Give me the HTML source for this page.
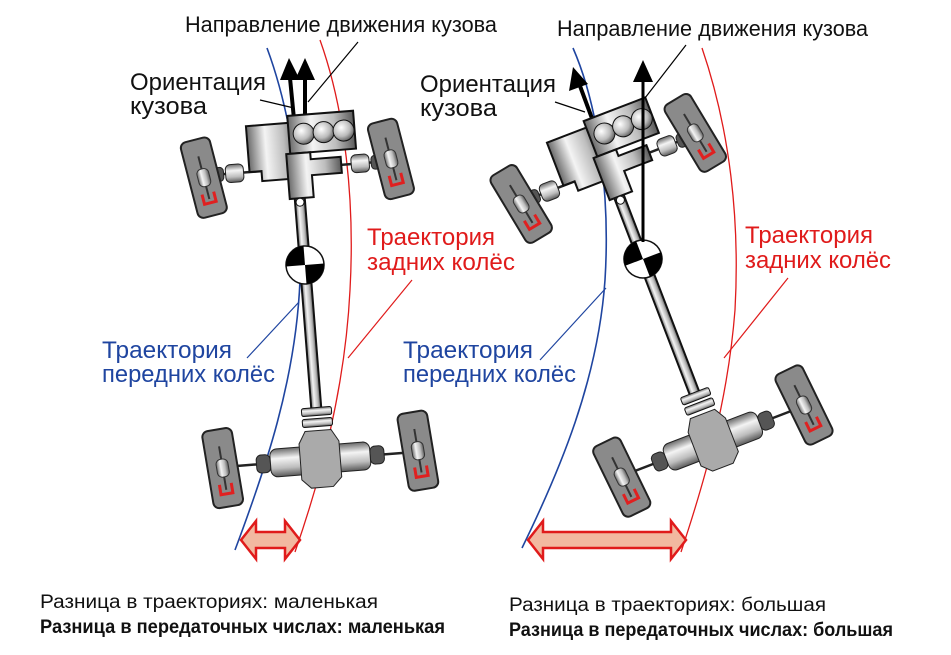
<!DOCTYPE html>
<html><head><meta charset="utf-8">
<style>
html,body{margin:0;padding:0;background:#fff;}
svg{display:block;}
text{font-family:"Liberation Sans",sans-serif;}
</style></head>
<body>
<svg width="951" height="655" viewBox="0 0 951 655" xmlns="http://www.w3.org/2000/svg">
<defs>
<linearGradient id="gh" x1="0" y1="0" x2="1" y2="0">
<stop offset="0" stop-color="#6a6a6a"/><stop offset="0.35" stop-color="#f4f4f4"/><stop offset="0.7" stop-color="#bdbdbd"/><stop offset="1" stop-color="#5a5a5a"/>
</linearGradient>
<linearGradient id="gv" x1="0" y1="0" x2="0" y2="1">
<stop offset="0" stop-color="#6a6a6a"/><stop offset="0.35" stop-color="#f4f4f4"/><stop offset="0.7" stop-color="#bdbdbd"/><stop offset="1" stop-color="#5a5a5a"/>
</linearGradient>
<radialGradient id="gc" cx="0.4" cy="0.35" r="0.7">
<stop offset="0" stop-color="#fff"/><stop offset="0.6" stop-color="#bbb"/><stop offset="1" stop-color="#555"/>
</radialGradient>
<g id="wheel">
<rect x="-15" y="-39" width="30" height="78" rx="6" fill="#8a8a8a" stroke="#222" stroke-width="2"/>
<line x1="0" y1="-22" x2="0" y2="22" stroke="#333" stroke-width="2"/>
<path d="M-6 16 v10 h12 v-10" fill="none" stroke="#e02020" stroke-width="3"/>
<rect x="-6" y="-9" width="12" height="18" rx="5" fill="url(#gh)" stroke="#333" stroke-width="1"/>
</g>
<g id="car">
<rect x="-5" y="-90" width="10" height="240" fill="url(#gh)" stroke="#111" stroke-width="2"/>
<line x1="-92" y1="-97" x2="92" y2="-97" stroke="#222" stroke-width="2.5"/>
<rect x="-72" y="-106" width="18" height="18" rx="5" fill="url(#gv)" stroke="#222"/>
<rect x="54" y="-106" width="18" height="18" rx="5" fill="url(#gv)" stroke="#222"/>
<rect x="-84" y="-104" width="10" height="14" rx="4" fill="#555" stroke="#222"/>
<rect x="74" y="-104" width="10" height="14" rx="4" fill="#555" stroke="#222"/>
<use href="#wheel" transform="translate(-94,-95) rotate(-10)"/>
<use href="#wheel" transform="translate(94,-99) rotate(-10)"/>
<path d="M-48 -143 h52 v56 h-40 v-10 h-12 z" fill="url(#gh)" stroke="#111" stroke-width="2"/>
<rect x="-6" y="-150" width="66" height="38" fill="url(#gh)" stroke="#111" stroke-width="2"/>
<circle cx="9" cy="-131" r="10.5" fill="url(#gc)" stroke="#111"/>
<circle cx="29" cy="-131" r="10.5" fill="url(#gc)" stroke="#111"/>
<circle cx="49" cy="-131" r="10.5" fill="url(#gc)" stroke="#111"/>
<path d="M-10 -112 h24 v7 h30 v16 h-30 v22 h-24 z" fill="url(#gh)" stroke="#111" stroke-width="2"/>
<circle cx="0" cy="-63" r="4" fill="#fff" stroke="#111"/>
<circle cx="0" cy="0" r="19" fill="#fff" stroke="#111" stroke-width="1.5"/>
<path d="M0 0 L-19 0 A19 19 0 0 1 0 -19 Z" fill="#000"/>
<path d="M0 0 L19 0 A19 19 0 0 1 0 19 Z" fill="#000"/>
<rect x="-15" y="143" width="30" height="8" rx="2" fill="url(#gv)" stroke="#111"/>
<rect x="-15" y="154" width="30" height="8" rx="2" fill="url(#gv)" stroke="#111"/>
<line x1="-95" y1="195" x2="95" y2="195" stroke="#222" stroke-width="2.5"/>
<rect x="-64" y="186" width="14" height="18" rx="5" fill="#555" stroke="#222"/>
<rect x="50" y="186" width="14" height="18" rx="5" fill="#555" stroke="#222"/>
<use href="#wheel" transform="translate(-98,196) rotate(-5)"/>
<use href="#wheel" transform="translate(98,194) rotate(-5)"/>
<rect x="-50" y="181" width="100" height="28" rx="7" fill="url(#gv)" stroke="#222"/>
<path d="M-13 166 h26 l7 12 v36 l-9 9 h-22 l-9 -9 v-36 z" fill="#aaa" stroke="#222"/>
</g>
</defs>

<!-- LEFT -->
<path d="M267 48 C290 110 305 200 300 280 C296 380 265 470 235 550" fill="none" stroke="#1f45a0" stroke-width="1.6"/>
<path d="M320 40 C345 110 355 200 350 290 C345 390 320 480 295 552" fill="none" stroke="#e01b1b" stroke-width="1.3"/>
<line x1="297" y1="150" x2="290" y2="78" stroke="#000" stroke-width="4"/>
<polygon points="289,58 280,80 300,80" fill="#000"/>
<line x1="305" y1="150" x2="305" y2="78" stroke="#000" stroke-width="4"/>
<polygon points="305,58 295,80 315,80" fill="#000"/>
<use href="#car" transform="translate(305,265) rotate(-4.5)"/>
<line x1="260" y1="100" x2="294" y2="108" stroke="#000" stroke-width="1.2"/>
<line x1="358" y1="42" x2="308" y2="102" stroke="#000" stroke-width="1.2"/>
<line x1="247" y1="358" x2="299" y2="302" stroke="#1f45a0" stroke-width="1.2"/>
<line x1="412" y1="280" x2="348" y2="358" stroke="#e01b1b" stroke-width="1.2"/>
<polygon points="241,540 256,521 256,532 285,532 285,521 300,540 285,559 285,548 256,548 256,559" fill="#f2b9a0" stroke="#e01b1b" stroke-width="2.5"/>

<!-- RIGHT -->
<path d="M573 48 C600 110 610 200 605 280 C598 380 560 470 522 548" fill="none" stroke="#1f45a0" stroke-width="1.6"/>
<path d="M702 48 C730 130 740 220 735 310 C728 400 705 480 681 552" fill="none" stroke="#e01b1b" stroke-width="1.3"/>
<line x1="600" y1="140" x2="580" y2="86" stroke="#000" stroke-width="4"/>
<polygon points="573,67 569,91 588,84" fill="#000"/>
<use href="#car" transform="translate(643,259) rotate(-21)"/>
<line x1="643" y1="242" x2="643" y2="80" stroke="#000" stroke-width="3"/>
<polygon points="643,60 633,82 653,82" fill="#000"/>
<line x1="555" y1="102" x2="585" y2="112" stroke="#000" stroke-width="1.2"/>
<line x1="686" y1="45" x2="645" y2="98" stroke="#000" stroke-width="1.2"/>
<line x1="540" y1="360" x2="606" y2="288" stroke="#1f45a0" stroke-width="1.2"/>
<line x1="788" y1="278" x2="724" y2="358" stroke="#e01b1b" stroke-width="1.2"/>
<polygon points="528,540 543,521 543,532 671,532 671,521 686,540 671,559 671,548 543,548 543,559" fill="#f2b9a0" stroke="#e01b1b" stroke-width="2.5"/>

<!-- labels -->
<g font-size="22" fill="#111">
<text x="185" y="32" textLength="312" lengthAdjust="spacingAndGlyphs">Направление движения кузова</text>
<text x="557" y="36" textLength="311" lengthAdjust="spacingAndGlyphs">Направление движения кузова</text>
</g>
<g font-size="24" fill="#111">
<text x="130" y="90" textLength="136" lengthAdjust="spacingAndGlyphs">Ориентация</text>
<text x="130" y="114" textLength="77" lengthAdjust="spacingAndGlyphs">кузова</text>
<text x="420" y="92" textLength="136" lengthAdjust="spacingAndGlyphs">Ориентация</text>
<text x="420" y="116" textLength="77" lengthAdjust="spacingAndGlyphs">кузова</text>
</g>
<g font-size="24" fill="#e01b1b">
<text x="367" y="245" textLength="128" lengthAdjust="spacingAndGlyphs">Траектория</text>
<text x="367" y="270" textLength="148" lengthAdjust="spacingAndGlyphs">задних колёс</text>
<text x="745" y="243" textLength="128" lengthAdjust="spacingAndGlyphs">Траектория</text>
<text x="745" y="268" textLength="146" lengthAdjust="spacingAndGlyphs">задних колёс</text>
</g>
<g font-size="24" fill="#1f45a0">
<text x="102" y="358" textLength="130" lengthAdjust="spacingAndGlyphs">Траектория</text>
<text x="102" y="382" textLength="173" lengthAdjust="spacingAndGlyphs">передних колёс</text>
<text x="403" y="358" textLength="130" lengthAdjust="spacingAndGlyphs">Траектория</text>
<text x="403" y="382" textLength="173" lengthAdjust="spacingAndGlyphs">передних колёс</text>
</g>
<g font-size="19" fill="#111">
<text x="40" y="608" textLength="338" lengthAdjust="spacingAndGlyphs">Разница в траекториях: маленькая</text>
<text x="40" y="633" textLength="405" lengthAdjust="spacingAndGlyphs" font-weight="bold">Разница в передаточных числах: маленькая</text>
<text x="509" y="611" textLength="317" lengthAdjust="spacingAndGlyphs">Разница в траекториях: большая</text>
<text x="509" y="636" textLength="384" lengthAdjust="spacingAndGlyphs" font-weight="bold">Разница в передаточных числах: большая</text>
</g>
</svg>
</body></html>
